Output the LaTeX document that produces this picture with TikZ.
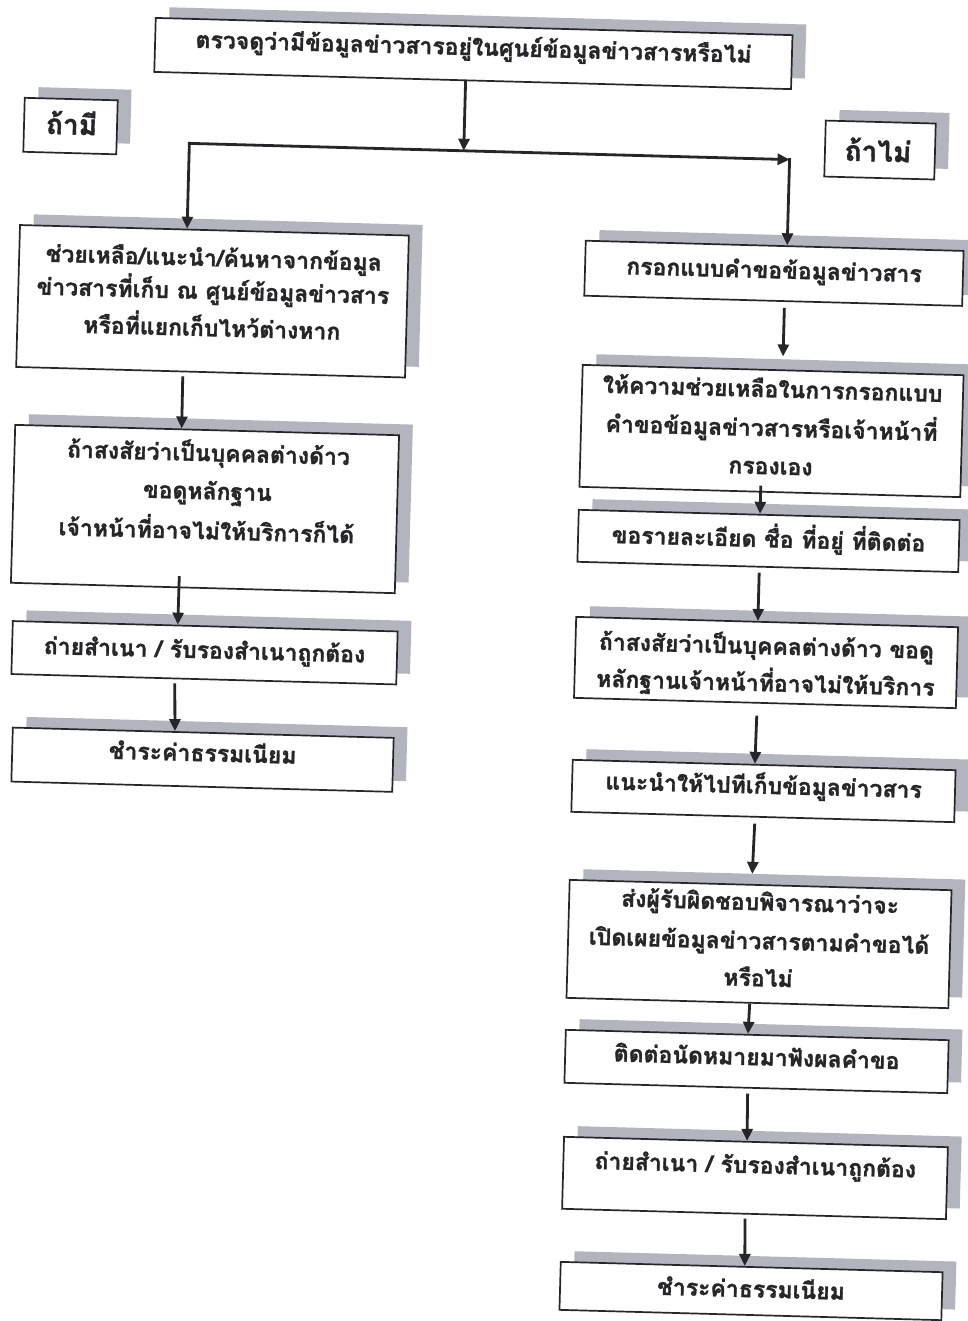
\documentclass[tikz,border=0pt]{standalone}
\usepackage{fontspec}
\newfontfamily\thaifont[Script=Thai, BoldFeatures={FakeBold=1.3}]{Loma}
\usetikzlibrary{calc,arrows.meta}
\definecolor{shd}{RGB}{178,180,190}
\definecolor{ink}{RGB}{38,38,42}
\newcommand\mkbox[5]{%
  \node[sh, minimum width=#4pt, minimum height=#5pt] (#1s) at ({#2+13.5},{#3-11}) {};
  \node[bx, minimum width=#4pt, minimum height=#5pt] (#1) at (#2,#3) {};}
\begin{document}
\begin{tikzpicture}[x=1pt,y=-1pt,
  bx/.style={draw=ink, line width=1.7pt, fill=white, inner sep=0pt, transform shape},
  sh/.style={fill=shd, draw=none, inner sep=0pt, transform shape},
  txt/.style={font=\thaifont\bfseries\fontsize{23}{27}\selectfont, text=ink, inner sep=0pt,
              text height=12.5pt, text depth=0pt, transform shape},
  lbl/.style={txt, font=\thaifont\bfseries\fontsize{28}{32}\selectfont, text height=15pt},
  arr/.style={draw=ink, line width=2.8pt, -{Triangle[length=12pt,width=11pt]}},
]
\fill[white] (0,0) rectangle (968,1321);
\useasboundingbox (0,0) rectangle (968,1321);
\clip (0,0) rectangle (968,1321);
\begin{scope}[rotate around={-1.55:(484,660)}]
% boxes
\mkbox{T}{457}{54}{637}{54}
\mkbox{Y}{56.2}{137.4}{93}{54}
\mkbox{N}{866.1}{139.5}{110}{56}
\mkbox{L1}{202.9}{308.7}{389}{142}
\mkbox{L2}{201}{516.6}{384}{158}
\mkbox{L3}{204.4}{660.3}{385}{53}
\mkbox{L4}{205.3}{767.3}{381}{54}
\mkbox{R1}{763.4}{265.6}{378}{55}
\mkbox{R2}{765.2}{423.3}{381}{122}
\mkbox{R3}{765.2}{533.3}{381}{52}
\mkbox{R4}{766}{654.9}{382}{81}
\mkbox{R5}{766.9}{783.4}{383}{52}
\mkbox{R6}{766.6}{936.5}{382}{118}
\mkbox{R7}{767.3}{1054}{383}{53}
\mkbox{R8}{768.9}{1170.5}{384}{72}
\mkbox{R9}{768}{1283.6}{382}{48}
% texts
\node[txt] (tT) at (457,49.5) {ตรวจดูว่ามีข้อมูลข่าวสารอยู่ในศูนย์ข้อมูลข่าวสารหรือไม่};
\node[lbl] (tY) at (57.3,138.4) {ถ้ามี};
\node[lbl] (tN) at (864.2,143.5) {ถ้าไม่};
\node[txt] (tL1a) at (203,267.4) {ช่วยเหลือ/แนะนำ/ค้นหาจากข้อมูล};
\node[txt] (tL1b) at (203,300.5) {ข่าวสารที่เก็บ ณ ศูนย์ข้อมูลข่าวสาร};
\node[txt] (tL1c) at (203,337.5) {หรือที่แยกเก็บไหว้ต่างหาก};
\node[txt] (tL2a) at (203,462.5) {ถ้าสงสัยว่าเป็นบุคคลต่างด้าว};
\node[txt] (tL2b) at (203,500.6) {ขอดูหลักฐาน};
\node[txt] (tL2c) at (203,540.5) {เจ้าหน้าที่อาจไม่ให้บริการก็ได้};
\node[txt] (tL3) at (204.4,659.6) {ถ่ายสำเนา / รับรองสำเนาถูกต้อง};
\node[txt] (tL4) at (205.3,762.6) {ชำระค่าธรรมเนียม};
\node[txt] (tR1) at (763.4,264.3) {กรอกแบบคำขอข้อมูลข่าวสาร};
\node[txt] (tR2a) at (765.2,383.4) {ให้ความช่วยเหลือในการกรอกแบบ};
\node[txt] (tR2b) at (765.2,422.4) {คำขอข้อมูลข่าวสารหรือเจ้าหน้าที่};
\node[txt] (tR2c) at (765.2,460.4) {กรองเอง};
\node[txt] (tR3) at (765.2,533.3) {ขอรายละเอียด ชื่อ ที่อยู่ ที่ติดต่อ};
\node[txt] (tR4a) at (766,640.4) {ถ้าสงสัยว่าเป็นบุคคลต่างด้าว ขอดู};
\node[txt] (tR4b) at (766,677.4) {หลักฐานเจ้าหน้าที่อาจไม่ให้บริการ};
\node[txt] (tR5) at (766.9,779.9) {แนะนำให้ไปทีเก็บข้อมูลข่าวสาร};
\node[txt] (tR6a) at (766.6,896.5) {ส่งผู้รับผิดชอบพิจารณาว่าจะ};
\node[txt] (tR6b) at (766.6,935.5) {เปิดเผยข้อมูลข่าวสารตามคำขอได้};
\node[txt] (tR6c) at (766.6,972.5) {หรือไม่};
\node[txt] (tR7) at (767.3,1051.5) {ติดต่อนัดหมายมาฟังผลคำขอ};
\node[txt] (tR8) at (768.9,1159.5) {ถ่ายสำเนา / รับรองสำเนาถูกต้อง};
\node[txt] (tR9) at (768,1283.6) {ชำระค่าธรรมเนียม};
% junctions
\coordinate (jt) at (450,151.5);
\coordinate (jl) at (175.5,151.5);
\coordinate (jr) at (776,151.5);
% connectors
\draw[arr] ($(T.south west)!0.489!(T.south east)$) -- (jt);
\draw[arr] (jl) -- (jr);
\draw[arr, line join=miter, shorten <=-1.4pt] (jl) -- ($(L1.north west)!0.43!(L1.north east)$);
\draw[arr, shorten <=-1.4pt] (jr) -- ($(R1.north west)!0.533!(R1.north east)$);
\draw[arr, shorten <=4pt] ($(L1.south west)!0.429!(L1.south east)$) -- ($(L2.north west)!0.434!(L2.north east)$);
\draw[arr, shorten <=-12pt] ($(L2.south west)!0.438!(L2.south east)$) -- ($(L3.north west)!0.429!(L3.north east)$);
\draw[arr, shorten <=4pt] ($(L3.south west)!0.425!(L3.south east)$) -- ($(L4.north west)!0.426!(L4.north east)$);
\draw[arr, shorten <=6pt, shorten >=13pt] ($(R1.south west)!0.53!(R1.south east)$) -- ($(R2.north west)!0.525!(R2.north east)$);
\draw[arr, shorten <=-7pt] ($(R2.south west)!0.476!(R2.south east)$) -- ($(R3.north west)!0.476!(R3.north east)$);
\draw[arr, shorten <=5pt] ($(R3.south west)!0.478!(R3.south east)$) -- ($(R4.north west)!0.476!(R4.north east)$);
\draw[arr, shorten <=12pt] ($(R4.south west)!0.48!(R4.south east)$) -- ($(R5.north west)!0.476!(R5.north east)$);
\draw[arr, shorten <=6pt, shorten >=10pt] ($(R5.south west)!0.48!(R5.south east)$) -- ($(R6.north west)!0.477!(R6.north east)$);
\draw[arr] ($(R6.south west)!0.48!(R6.south east)$) -- ($(R7.north west)!0.476!(R7.north east)$);
\draw[arr, shorten <=5pt] ($(R7.south west)!0.479!(R7.south east)$) -- ($(R8.north west)!0.477!(R8.north east)$);
\draw[arr, shorten <=4pt] ($(R8.south west)!0.477!(R8.south east)$) -- ($(R9.north west)!0.482!(R9.north east)$);
\end{scope}
\end{tikzpicture}
\end{document}
